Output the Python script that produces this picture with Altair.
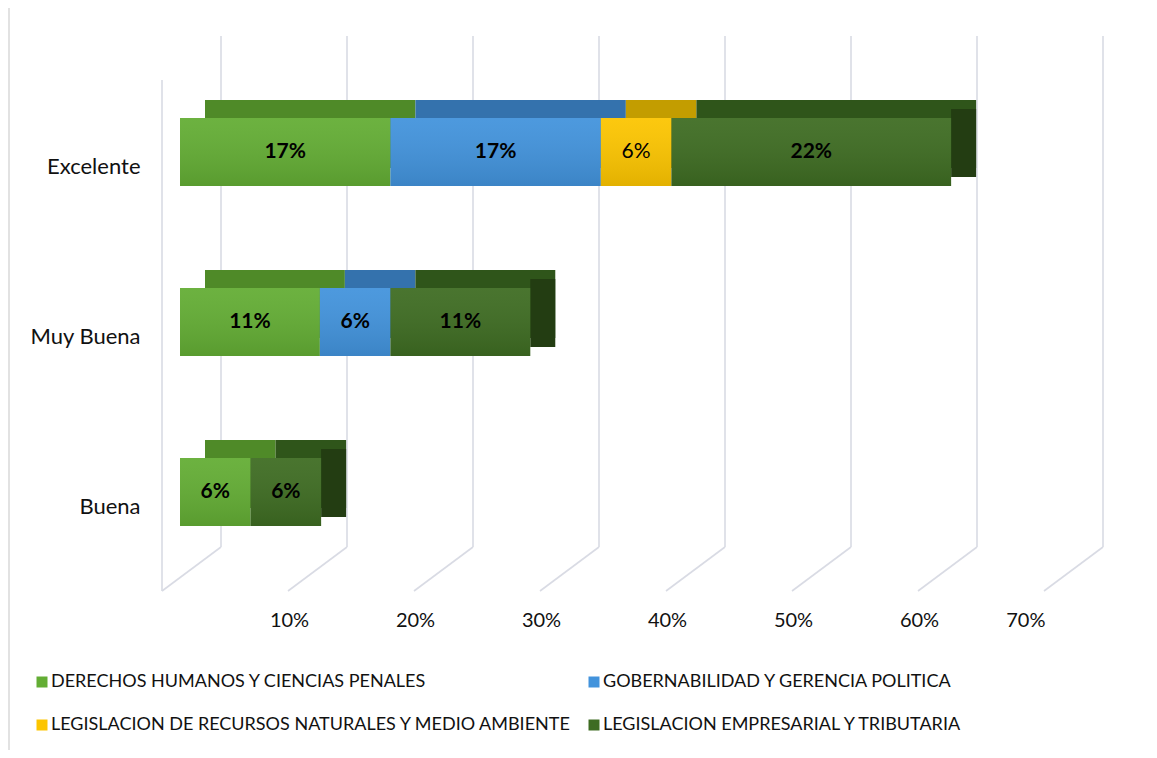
import altair as alt
import pandas as pd

categories = ["Excelente", "Muy Buena", "Buena"]
series = [
    "DERECHOS HUMANOS Y CIENCIAS PENALES",
    "GOBERNABILIDAD Y GERENCIA POLITICA",
    "LEGISLACION DE RECURSOS NATURALES Y MEDIO AMBIENTE",
    "LEGISLACION EMPRESARIAL Y TRIBUTARIA",
]
# percent values per category (Excelente, Muy Buena, Buena)
derechos = [16.7, 11.1, 5.6]
gobernabilidad = [16.7, 5.6, 0.0]
recursos = [5.6, 0.0, 0.0]
empresarial = [22.2, 11.1, 5.6]

front_colors = ["#63ad34", "#4293dc", "#fcc500", "#3e6c22"]
top_colors = ["#4f8a28", "#3472ad", "#c39d00", "#2f551a"]
side_colors = ["#3f6f20", "#2a5c8c", "#a08200", "#233d12"]
bold_series = [True, True, False, True]

grid_values = [0.0, 0.1, 0.2, 0.3, 0.4, 0.5, 0.6, 0.7]
tick_values = [0.1, 0.2, 0.3, 0.4, 0.5, 0.6, 0.7]

FONT = "Lato"
GRID = "#d9dbe4"
TXT = "#111111"

all_vals = [derechos, gobernabilidad, recursos, empresarial]
rows = []
for ci, cat in enumerate(categories):
    nz = [si for si in range(len(series)) if all_vals[si][ci] > 0]
    for si in nz:
        rows.append({
            "cat": cat, "serie": series[si], "idx": si, "value": all_vals[si][ci] / 100.0,
            "dark": top_colors[si], "side": side_colors[si], "bold": bold_series[si],
            "last": si == nz[-1],
        })
df = pd.DataFrame(rows)
grid_df = pd.DataFrame({"v": grid_values})
one = pd.DataFrame({"a": [0]})

xscale = alt.Scale(domain=[0, 0.7], nice=False, zero=True)
x_axis = alt.Axis(values=tick_values, format=".0%", title=None, domain=False, ticks=False,
                  grid=False, labelOffset=-17, labelPadding=33, labelFont=FONT,
                  labelFontSize=20, labelColor=TXT)
yscale = alt.Scale(domain=categories, paddingInner=0.6, paddingOuter=0.3)
y_axis = alt.Axis(title=None, domain=False, ticks=False, grid=False, labelOffset=15,
                  labelPadding=40, labelFont=FONT, labelFontSize=22, labelColor=TXT)

grid_vert = alt.Chart(grid_df).mark_rule(color=GRID, strokeWidth=1.6, xOffset=41).encode(
    x=alt.X("v:Q", scale=xscale, axis=x_axis),
    y=alt.value(-31), y2=alt.value(480),
)
grid_diag = alt.Chart(grid_df).mark_rule(color=GRID, strokeWidth=1.6, xOffset=41, x2Offset=-18).encode(
    x=alt.X("v:Q", scale=xscale, axis=x_axis), x2="v:Q",
    y=alt.value(480), y2=alt.value(524),
)
wall = alt.Chart(grid_df[grid_df.v == 0]).mark_rule(color=GRID, strokeWidth=1.6, xOffset=-18).encode(
    x=alt.X("v:Q", scale=xscale, axis=x_axis),
    y=alt.value(13), y2=alt.value(524),
)
frame_left = alt.Chart(one).mark_rule(color="#d9d9d9", strokeWidth=1.5).encode(
    x=alt.value(-171), y=alt.value(-60), y2=alt.value(690))
frame_top = alt.Chart(one).mark_rule(color="#d9d9d9", strokeWidth=1.5).encode(
    y=alt.value(-60), x=alt.value(-171), x2=alt.value(975))

stacked = alt.Chart(df).transform_stack(
    stack="value", groupby=["cat"], as_=["x0", "x1"], sort=[alt.SortField("idx")]
).transform_calculate(mid="(datum.x0 + datum.x1) / 2")

back = stacked.mark_bar(xOffset=25, x2Offset=25, yOffset=-18, y2Offset=-18).encode(
    x=alt.X("x0:Q", scale=xscale, axis=x_axis), x2="x1:Q",
    y=alt.Y("cat:N", scale=yscale, axis=y_axis),
    color=alt.Color("dark:N", scale=None, legend=None),
)
side = stacked.transform_filter("datum.last").mark_bar(
    xOffset=0, x2Offset=25, yOffset=-9, y2Offset=-9
).encode(
    x=alt.X("x1:Q", scale=xscale, axis=x_axis), x2="x1:Q",
    y=alt.Y("cat:N", scale=yscale, axis=y_axis),
    color=alt.Color("side:N", scale=None, legend=None),
)
front = stacked.mark_bar().encode(
    x=alt.X("x0:Q", scale=xscale, axis=x_axis), x2="x1:Q",
    y=alt.Y("cat:N", scale=yscale, axis=y_axis),
    color=alt.Color("serie:N", scale=alt.Scale(domain=series, range=front_colors),
                    legend=alt.Legend(orient="none", legendX=-147, legendY=606, columns=2,
                                      direction="horizontal",
                                      title=None, symbolType="square", symbolSize=121,
                                      symbolStrokeWidth=0, labelFont=FONT, labelFontSize=18,
                                      labelColor=TXT, labelLimit=0, columnPadding=13,
                                      rowPadding=25, labelOffset=0, padding=0)),
)
shade = alt.LinearGradient(
    gradient="linear", x1=0, x2=0, y1=0, y2=1,
    stops=[alt.GradientStop(color="rgba(255,255,255,0.06)", offset=0),
           alt.GradientStop(color="rgba(0,0,0,0.10)", offset=1)],
)
overlay = stacked.mark_bar(color=shade).encode(
    x=alt.X("x0:Q", scale=xscale, axis=x_axis), x2="x1:Q",
    y=alt.Y("cat:N", scale=yscale, axis=y_axis),
)
labels_bold = stacked.transform_filter("datum.bold").mark_text(
    font=FONT, fontSize=21, fontWeight="bold", color="#000000", baseline="middle", align="center"
).encode(
    x=alt.X("mid:Q", scale=xscale, axis=x_axis),
    y=alt.Y("cat:N", scale=yscale, axis=y_axis),
    text=alt.Text("value:Q", format=".0%"),
)
labels_plain = stacked.transform_filter("!datum.bold").mark_text(
    font=FONT, fontSize=21, color="#000000", baseline="middle", align="center"
).encode(
    x=alt.X("mid:Q", scale=xscale, axis=x_axis),
    y=alt.Y("cat:N", scale=yscale, axis=y_axis),
    text=alt.Text("value:Q", format=".0%"),
)

chart = alt.layer(
    frame_left, frame_top, grid_vert, grid_diag, wall, back, side, front, overlay,
    labels_bold, labels_plain
).resolve_scale(color="independent").properties(
    width=882, height=510,
    autosize=alt.AutoSizeParams(type="none"),
    padding={"left": 172, "top": 59, "right": 87, "bottom": 173},
).configure_view(stroke=None)

chart.save("out.html", embed_options={"renderer": "svg", "actions": False})
